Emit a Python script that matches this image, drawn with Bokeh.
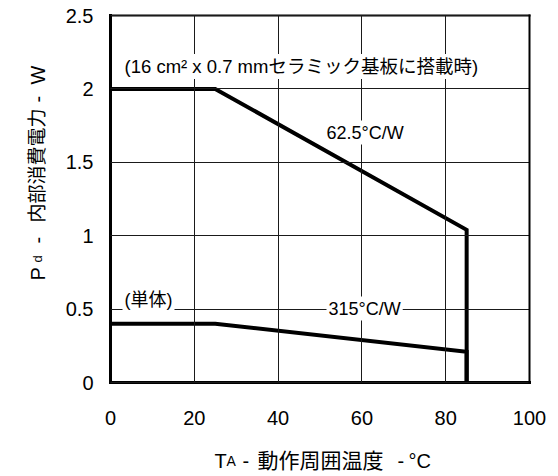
import math
from bokeh.plotting import figure
from bokeh.models import Range1d, FixedTicker, Label, LinearAxis
from bokeh.embed import file_html
from bokeh.resources import INLINE

# Power dissipation derating: ambient temperature (degC) vs Pd (W)
ta_ceramic = [0, 25, 85, 85]
pd_ceramic = [2.0, 2.0, 1.04, 0.0]
ta_single = [0, 25, 85, 85]
pd_single = [0.4, 0.4, 0.21, 0.0]

x_ticks = [0, 20, 40, 60, 80, 100]
y_ticks = [0, 0.5, 1, 1.5, 2, 2.5]
y_tick_labels = ["0", "0.5", "1", "1.5", "2", "2.5"]
X_MIN, X_MAX = 0, 100
Y_MIN, Y_MAX = 0, 2.5

FONT = "Liberation Sans, DejaVu Sans, Noto Sans CJK JP"
W, H = 558, 476
# plot box inside the canvas (pixels)
BOX_L, BOX_R, BOX_T, BOX_B = 110, 529, 15, 382

# canvas pixel -> data coordinate
def dx(px):
    return X_MIN + (px - BOX_L) / (BOX_R - BOX_L) * (X_MAX - X_MIN)
def dy(py):
    return Y_MIN + (BOX_B - py) / (BOX_B - BOX_T) * (Y_MAX - Y_MIN)

# the frame fills the whole canvas so that titles placed around the box stay visible
p = figure(width=W, height=H, output_backend="svg", toolbar_location=None,
           x_range=Range1d(dx(0), dx(W)), y_range=Range1d(dy(H), dy(0)),
           min_border=0)
p.background_fill_color = "white"
p.border_fill_color = "white"
p.outline_line_color = None
p.xgrid.grid_line_color = None
p.ygrid.grid_line_color = None

xa = p.xaxis[0]
ya = p.yaxis[0]
xa.fixed_location = Y_MIN
ya.fixed_location = X_MIN
xa.bounds = (X_MIN, X_MAX)
ya.bounds = (Y_MIN, Y_MAX)
xa.ticker = FixedTicker(ticks=x_ticks)
ya.ticker = FixedTicker(ticks=y_ticks)
ya.major_label_overrides = {t: s for t, s in zip(y_ticks, y_tick_labels)}
for ax in (xa, ya):
    ax.axis_line_color = "black"
    ax.axis_line_width = 3
    ax.axis_line_cap = "square"
    ax.major_tick_out = 0
    ax.major_tick_line_color = "#1a1a1a"
    ax.major_tick_line_width = 1
    ax.minor_tick_line_color = None
    ax.major_label_text_font = FONT
    ax.major_label_text_font_size = "20px"
    ax.major_label_text_color = "black"
# ticks run across the whole box and act as the grid
xa.major_tick_in = BOX_B - BOX_T
ya.major_tick_in = BOX_R - BOX_L
xa.major_label_standoff = 28
ya.major_label_standoff = 17

# thinner top and right edges of the box
top = LinearAxis(fixed_location=Y_MAX, bounds=(X_MIN, X_MAX), ticker=FixedTicker(ticks=[]))
right = LinearAxis(fixed_location=X_MAX, bounds=(Y_MIN, Y_MAX), ticker=FixedTicker(ticks=[]))
for ax in (top, right):
    ax.axis_line_color = "black"
    ax.axis_line_width = 2
    ax.axis_line_cap = "square"
    ax.major_tick_line_color = None
    ax.minor_tick_line_color = None
    ax.major_label_text_font_size = "0px"
p.add_layout(top, "above")
p.add_layout(right, "right")

p.line(ta_ceramic, pd_ceramic, line_color="black", line_width=4, line_join="miter")
p.line(ta_single, pd_single, line_color="black", line_width=4, line_join="miter")

def note(text, px, py, size="18px", baseline="middle", bg=True, angle=0.0):
    lab = Label(x=dx(px), y=dy(py), text=text, text_font=FONT, text_font_size=size,
                text_color="black", text_align="left", text_baseline=baseline, angle=angle)
    if bg:
        lab.background_fill_color = "white"
        lab.padding = 2
    p.add_layout(lab)

note("(16 cm² x 0.7 mmセラミック基板に搭載時)", 122, 66, size="18.5px")
note("62.5°C/W", 324, 132)
note("315°C/W", 326, 308)
note("(単体)", 122, 299)

# x axis title: T with small-caps A
for text, px, size in [("T", 214, "20px"), ("A", 226, "14px"), ("-", 242, "20px"),
                       ("動作周囲温度", 257, "21px"), ("-", 397, "20px"), ("°C", 408, "20px")]:
    note(text, px, 460, size=size, baseline="alphabetic", bg=False)

# y axis title, rotated: P with subscript d
rot = math.pi / 2
for text, py, size in [("P", 280, "20px"), ("d", 262, "13px"), ("-", 243, "20px"),
                       ("内部消費電力", 222, "19px"), ("-", 102, "20px"), ("W", 84, "20px")]:
    lab = Label(x=dx(37), y=dy(py), text=text, text_font=FONT, text_font_size=size,
                text_color="black", text_align="left", text_baseline="alphabetic", angle=rot)
    p.add_layout(lab)

open("out.html", "w").write(file_html(p, INLINE))
